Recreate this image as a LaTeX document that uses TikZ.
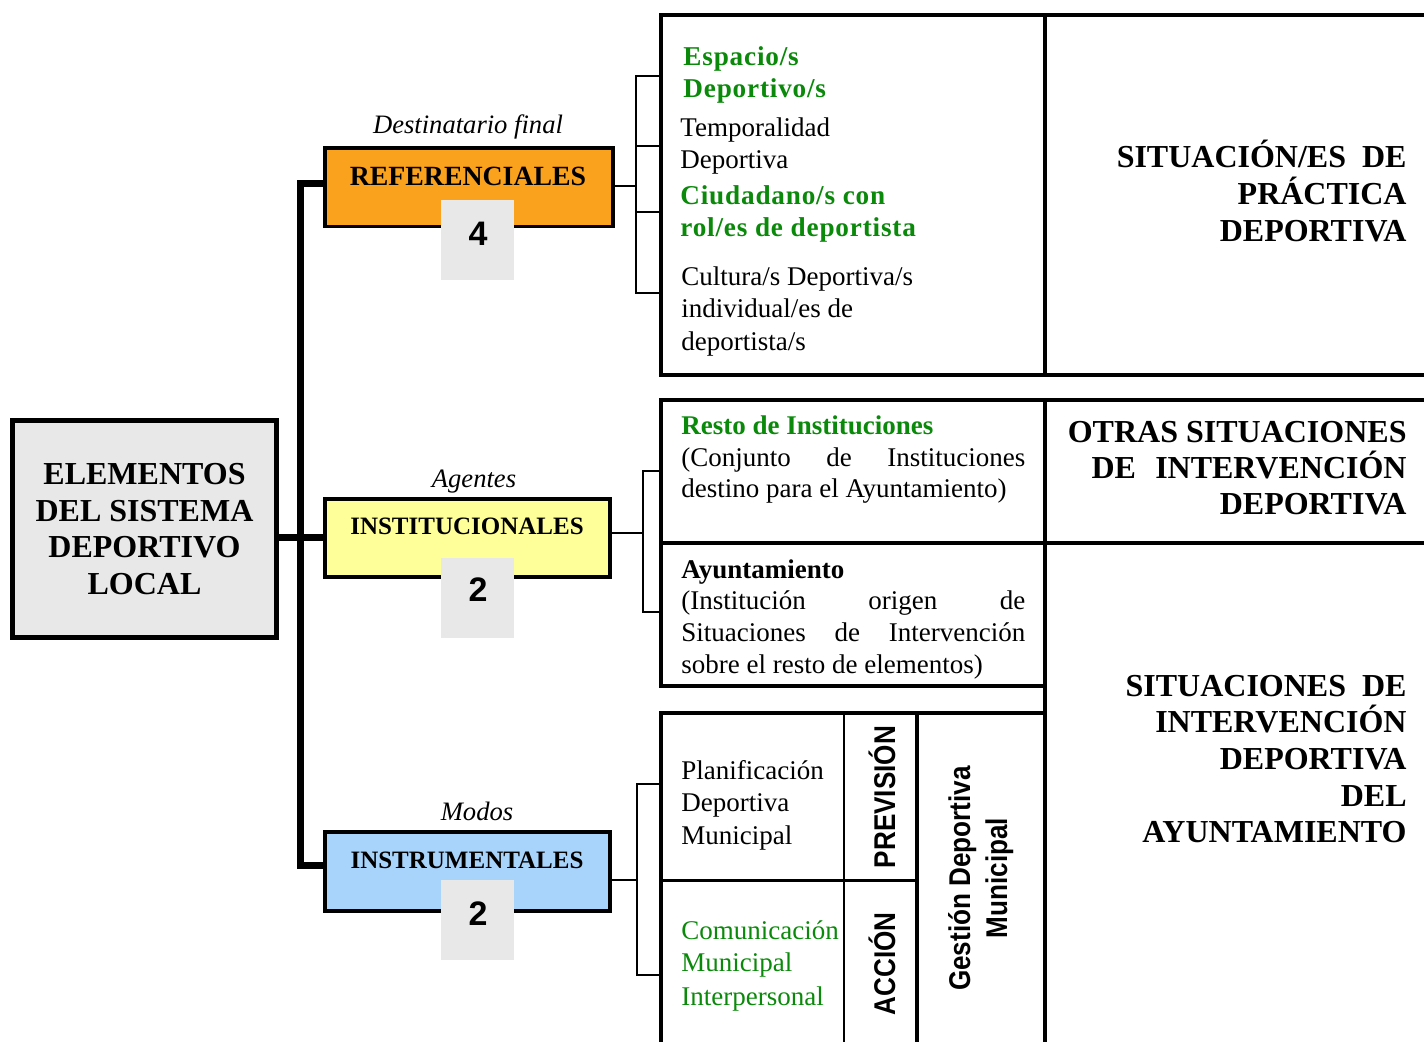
\documentclass[tikz,border=0pt]{standalone}
\usepackage{fontspec}
\setmainfont{Liberation Serif}
\newfontfamily\narrowsans[FakeStretch=0.87]{Liberation Sans}
\newfontfamily\numsans{Liberation Sans}
\newfontfamily\widebold[LetterSpace=3]{Liberation Serif}
\definecolor{orangefill}{HTML}{FAA21E}
\definecolor{yellowfill}{HTML}{FFFF99}
\definecolor{bluefill}{HTML}{A8D4FB}
\definecolor{badgegray}{HTML}{E8E8E8}
\definecolor{greentext}{HTML}{0A890A}
\tikzset{
  mainbox/.style={draw, line width=2.5pt, fill=badgegray, minimum width=132pt, minimum height=108.5pt,
    align=center, inner sep=0pt, font=\bfseries\fontsize{16}{18.35}\selectfont},
  catbox/.style={draw, line width=1.8pt, inner sep=0pt},
  catlabel/.style={anchor=base, inner sep=0pt},
  capt/.style={anchor=base, inner sep=0pt, font=\itshape\fontsize{13.3}{16}\selectfont},
  badgebox/.style={fill=badgegray, minimum width=36.5pt, minimum height=40pt, inner sep=0pt},
  badgenum/.style={anchor=base, inner sep=0pt, font=\numsans\bfseries\fontsize{17}{20}\selectfont},
  trunkline/.style={line width=3.5pt, line join=miter},
  brackline/.style={line width=1.2pt},
  gridline/.style={line width=2pt, line join=miter},
  bodytext/.style={anchor=base west, inner sep=0pt, font=\fontsize{13.5}{16}\selectfont},
  greenwide/.style={anchor=base west, inner sep=0pt, text=greentext, font=\widebold\bfseries\fontsize{13.6}{16}\selectfont},
  greenbold/.style={anchor=base west, inner sep=0pt, text=greentext, font=\bfseries\fontsize{13.5}{16}\selectfont},
  greenbody/.style={bodytext, text=greentext},
  blackbold/.style={anchor=base west, inner sep=0pt, font=\bfseries\fontsize{13.5}{16}\selectfont},
  bigright/.style={anchor=base east, inner sep=0pt, font=\bfseries\fontsize{16}{18}\selectfont},
  vlabel/.style={anchor=base, rotate=90, inner sep=0pt, font=\narrowsans\bfseries\fontsize{15}{18}\selectfont}
}
\begin{document}
\begin{tikzpicture}[x=0.5pt,y=-0.5pt]
\useasboundingbox[fill=white] (0,0) rectangle (1424,1042);

% ---- main box
\node[mainbox] (elem) at (144.5,529) {ELEMENTOS\\DEL SISTEMA\\DEPORTIVO\\LOCAL};

% ---- category boxes
\node[catbox, fill=orangefill, minimum width=144pt, minimum height=39.25pt] (ref) at (469,187.25) {};
\node[catbox, fill=yellowfill, minimum width=142.5pt, minimum height=39pt] (inst) at (467.5,538) {};
\node[catbox, fill=bluefill, minimum width=142.5pt, minimum height=39.5pt] (instr) at (467.5,871.5) {};

\node[catlabel, font=\bfseries\fontsize{13.9}{16}\selectfont] (refT) at (468,186) {REFERENCIALES};
\node[catlabel, font=\bfseries\fontsize{12.5}{15}\selectfont] (instT) at (467,535) {INSTITUCIONALES};
\node[catlabel, font=\bfseries\fontsize{12.5}{15}\selectfont] (instrT) at (467,868) {INSTRUMENTALES};

\node[capt] (capRef) at (468,134) {Destinatario final};
\node[capt] (capInst) at (474,488) {Agentes};
\node[capt] (capInstr) at (477,820) {Modos};

% ---- badges
\node[badgebox] (bad1) at (477.5,240) {};
\node[badgenum] (num1) at (478,246) {4};
\node[badgebox] (bad2) at (477.5,598) {};
\node[badgenum] (num2) at (478,602) {2};
\node[badgebox] (bad3) at (477.5,920) {};
\node[badgenum] (num3) at (478,925) {2};

% ---- trunk
\coordinate (tTop) at (300.5,183.5);
\coordinate (tBot) at (300.5,865.5);
\draw[trunkline] (ref.west |- tTop) -- (tTop) -- (tBot) -- (instr.west |- tBot);
\draw[trunkline] (elem.east |- inst.west) -- (inst.west);

% ---- brackets
\coordinate (br1t) at (636,76);
\coordinate (br1b) at (636,293);
\draw[brackline] (ref.east |- 0,186) -- (636,186);
\draw[brackline] (661,76) -- (br1t) -- (br1b) -- (661,293);
\draw[brackline] (636,146) -- (661,146);
\draw[brackline] (636,212) -- (661,212);

\coordinate (br2t) at (643,471);
\coordinate (br2b) at (643,612);
\draw[brackline] (inst.east |- 0,533) -- (643,533);
\draw[brackline] (661,471) -- (br2t) -- (br2b) -- (661,612);

\coordinate (br3t) at (637,784);
\coordinate (br3b) at (637,975);
\draw[brackline] (instr.east |- 0,880) -- (637,880);
\draw[brackline] (661,784) -- (br3t) -- (br3b) -- (661,975);

% ---- table
\draw[gridline] (1424,15) -- (661,15) -- (661,375) -- (1424,375);
\draw[gridline] (1045,15) -- (1045,375);
\draw[gridline] (1424,400) -- (661,400) -- (661,685.5) -- (1045,685.5);
\draw[gridline] (661,543.5) -- (1424,543.5);
\draw[gridline] (1045,400) -- (1045,1042);
\draw[gridline] (661,1042) -- (661,713) -- (1045,713);
\draw[gridline, line width=1.2pt] (844,713) -- (844,1042);
\draw[gridline] (917,713) -- (917,1042);
\draw[gridline, line width=1.5pt] (661,880) -- (917,880);

% ---- top block texts
\node[greenwide] (a1) at (683,66) {Espacio/s};
\node[greenwide] (a2) at (683,98) {Deportivo/s};
\node[bodytext] (a3) at (680,137) {Temporalidad};
\node[bodytext] (a4) at (680,169) {Deportiva};
\node[greenwide] (a5) at (680,205) {Ciudadano/s con};
\node[greenwide] (a6) at (680,237) {rol/es de deportista};
\node[bodytext] (a7) at (681,286) {Cultura/s Deportiva/s};
\node[bodytext] (a8) at (681,318) {individual/es de};
\node[bodytext] (a9) at (681,351) {deportista/s};

\node[bigright] (r1) at (1407,168) {SITUACIÓN/ES\hspace{0.5em}DE};
\node[bigright] (r2) at (1407,205) {PRÁCTICA};
\node[bigright] (r3) at (1407,242) {DEPORTIVA};

% ---- middle block texts
\node[greenbold] (m1) at (681,435) {Resto de Instituciones};
\node[bodytext] (m2) at (681,467) {\hbox to 172pt{(Conjunto\hfill de\hfill Instituciones}};
\node[bodytext] (m3) at (681,498) {destino para el Ayuntamiento)};
\node[blackbold] (m4) at (681,579) {Ayuntamiento};
\node[bodytext] (m5) at (681,610) {\hbox to 172pt{(Institución\hfill origen\hfill de}};
\node[bodytext] (m6) at (681,641) {\hbox to 172pt{Situaciones\hfill de\hfill Intervención}};
\node[bodytext] (m7) at (681,673) {sobre el resto de elementos)};

\node[bigright] (o1) at (1407,443) {OTRAS SITUACIONES};
\node[bigright] (o2) at (1407,479) {DE\hspace{0.6em}INTERVENCIÓN};
\node[bigright] (o3) at (1407,515) {DEPORTIVA};

% ---- bottom block texts
\node[bodytext] (p1) at (681,779) {Planificación};
\node[bodytext] (p2) at (681,811) {Deportiva};
\node[bodytext] (p3) at (681,844) {Municipal};
\node[greenbody] (c1) at (681,939) {Comunicación};
\node[greenbody] (c2) at (681,971) {Municipal};
\node[greenbody] (c3) at (681,1005) {Interpersonal};

\node[vlabel] (prev) at (895,797) {PREVISIÓN};
\node[vlabel] (acc) at (895,964) {ACCIÓN};
\node[vlabel] (gest1) at (970,878.5) {Gestión Deportiva};
\node[vlabel] (gest2) at (1007,878) {Municipal};

\node[bigright] (s1) at (1407,696) {SITUACIONES\hspace{0.5em}DE};
\node[bigright] (s2) at (1407,732) {INTERVENCIÓN};
\node[bigright] (s3) at (1407,769) {DEPORTIVA};
\node[bigright] (s4) at (1407,806) {DEL};
\node[bigright] (s5) at (1407,842) {AYUNTAMIENTO};
\end{tikzpicture}
\end{document}
